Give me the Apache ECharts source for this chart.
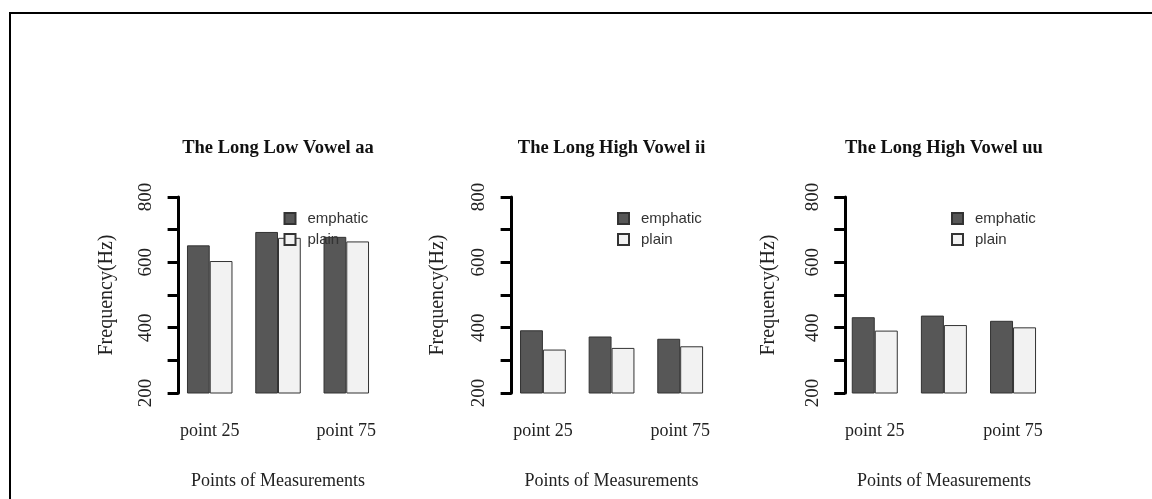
<!DOCTYPE html>
<html>
<head>
<meta charset="utf-8">
<script src="https://cdn.jsdelivr.net/npm/echarts@6/dist/echarts.min.js"></script>
<style>
html, body { margin: 0; padding: 0; background: #fff; }
#chart { width: 1152px; height: 499px; }
</style>
</head>
<body>
<div id="chart"></div>
<script>
// data
var points = ['point 25', 'point 50', 'point 75'];
var panelTitles = ['The Long Low Vowel aa', 'The Long High Vowel ii', 'The Long High Vowel uu'];
var groups = ['emphatic', 'plain'];
var emphaticAa = [652, 693, 678];
var plainAa = [604, 675, 664];
var emphaticIi = [392, 373, 366];
var plainIi = [333, 338, 343];
var emphaticUu = [432, 437, 421];
var plainUu = [391, 408, 401];

var emphatic = [emphaticAa, emphaticIi, emphaticUu];
var plain = [plainAa, plainIi, plainUu];

// layout of the three panels (pixels)
var panels = [
    {left: 175.6, width: 204.8, bar: 22.75, shift: -3, legendLeft: 283.5, nameGap: 62},
    {left: 508.6, width: 205.9, bar: 22.9, shift: -3, legendLeft: 617, nameGap: 64},
    {left: 840.2, width: 207.4, bar: 23, shift: -5, legendLeft: 951, nameGap: 66}
];
var gridTop = 197, gridBottom = 106;

var serif = '"Liberation Serif", "DejaVu Serif", serif';
var sans = '"Liberation Sans", Arial, sans-serif';

var chart = echarts.init(document.getElementById('chart'));

var measure = document.createElement('canvas').getContext('2d');
measure.font = 'bold 18.5px ' + serif;

var grid = [], xAxis = [], yAxis = [], series = [], title = [], legend = [];

panels.forEach(function (p, i) {
    grid.push({left: p.left, width: p.width, top: gridTop, bottom: gridBottom, containLabel: false});

    var tw = measure.measureText(panelTitles[i]).width;
    var cx = p.left + p.width / 2;
    title.push({
        text: panelTitles[i],
        left: cx - tw / 2,
        top: 139,
        padding: 0,
        textStyle: {fontFamily: serif, fontWeight: 'bold', fontSize: 18.5, color: '#111'}
    });

    xAxis.push({
        type: 'category',
        gridIndex: i,
        data: points,
        axisLine: {show: false},
        axisTick: {show: false},
        axisLabel: {interval: 1, margin: 29, fontFamily: serif, fontSize: 18, color: '#222'},
        name: 'Points of Measurements',
        nameLocation: 'middle',
        nameGap: 79,
        nameTextStyle: {fontFamily: serif, fontSize: 18, color: '#222'}
    });

    yAxis.push({
        type: 'value',
        gridIndex: i,
        min: 200,
        max: 800,
        interval: 100,
        offset: p.shift,
        splitLine: {show: false},
        axisLine: {show: true, lineStyle: {color: '#000', width: 3}},
        axisTick: {show: true, length: 11, lineStyle: {color: '#000', width: 3}},
        axisLabel: {
            rotate: 90,
            margin: 23,
            fontFamily: serif,
            fontSize: 19,
            color: '#222',
            formatter: function (v) { return v % 200 === 0 ? String(v) : ''; }
        },
        name: 'Frequency(Hz)',
        nameLocation: 'middle',
        nameGap: p.nameGap,
        nameRotate: 90,
        nameTextStyle: {fontFamily: serif, fontSize: 20, color: '#222'}
    });

    series.push({
        name: 'emphatic',
        type: 'bar',
        xAxisIndex: i,
        yAxisIndex: i,
        data: emphatic[i],
        barWidth: p.bar,
        barGap: '0%',
        itemStyle: {color: '#575757', borderColor: '#333', borderWidth: 1}
    }, {
        name: 'plain',
        type: 'bar',
        xAxisIndex: i,
        yAxisIndex: i,
        data: plain[i],
        barWidth: p.bar,
        barGap: '0%',
        itemStyle: {color: '#f2f2f2', borderColor: '#333', borderWidth: 1}
    });

    legend.push({
        data: groups,
        orient: 'vertical',
        left: p.legendLeft,
        top: 211,
        padding: 0,
        itemWidth: 11,
        itemHeight: 11,
        itemGap: 6,
        icon: 'rect',
        selectedMode: false,
        textStyle: {fontFamily: sans, fontSize: 15, color: '#333', padding: [0, 0, 0, 7]}
    });
});

chart.setOption({
    animation: false,
    backgroundColor: '#fff',
    title: title,
    legend: legend,
    grid: grid,
    xAxis: xAxis,
    yAxis: yAxis,
    series: series,
    graphic: [
        {type: 'line', shape: {x1: 9, y1: 13, x2: 1152, y2: 13}, style: {stroke: '#000', lineWidth: 2}},
        {type: 'line', shape: {x1: 10, y1: 12, x2: 10, y2: 499}, style: {stroke: '#000', lineWidth: 2}}
    ]
});
</script>
</body>
</html>
